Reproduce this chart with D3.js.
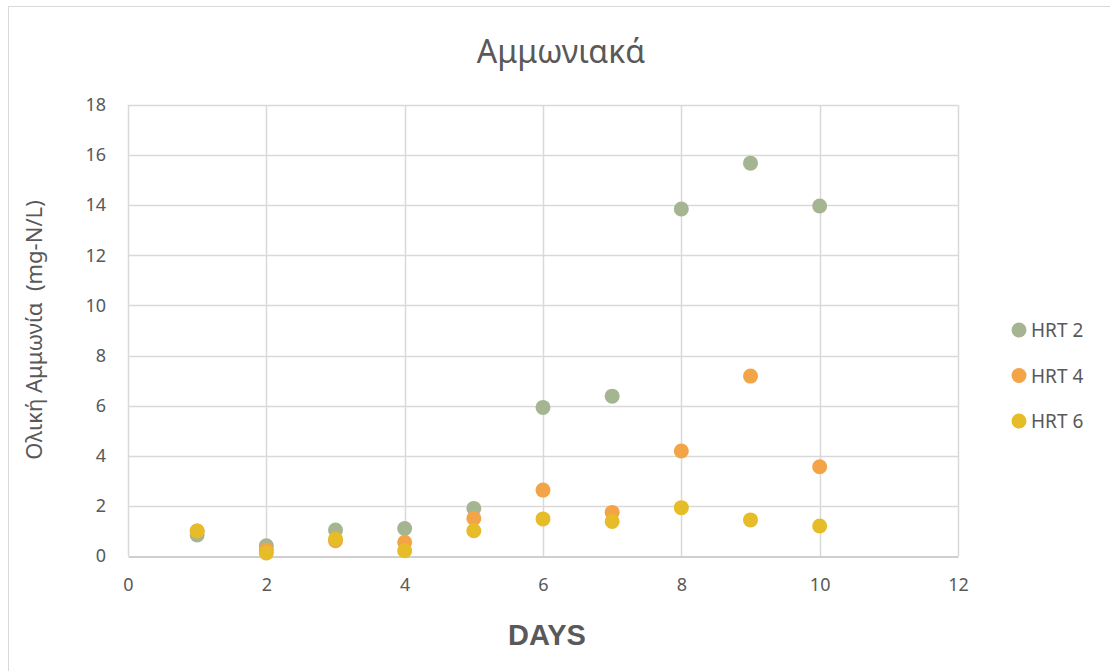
<!DOCTYPE html>
<html>
<head>
<meta charset="utf-8">
<script src="https://cdn.jsdelivr.net/npm/d3@7"></script>
<style>
  html, body { margin: 0; padding: 0; background: #ffffff; }
  svg { display: block; }
</style>
</head>
<body>
<svg id="chart" width="1110" height="671"></svg>
<script>
// Ammonia measurements per day for the three hydraulic retention times
const days = [1, 2, 3, 4, 5, 6, 7, 8, 9, 10];
const hrt2 = [0.84, 0.41, 1.04, 1.10, 1.90, 5.93, 6.38, 13.85, 15.68, 13.97];
const hrt4 = [1.00, 0.24, 0.61, 0.55, 1.50, 2.63, 1.74, 4.19, 7.18, 3.56];
const hrt6 = [1.00, 0.12, 0.68, 0.21, 1.01, 1.48, 1.38, 1.93, 1.44, 1.20];
const seriesNames = ["HRT 2", "HRT 4", "HRT 6"];
const seriesColors = ["#a5b592", "#f3a447", "#e7bc29"];
const xTicks = [0, 2, 4, 6, 8, 10, 12];
const yTicks = [0, 2, 4, 6, 8, 10, 12, 14, 16, 18];

const svg = d3.select("#chart");
const font = "'Noto Sans', 'Open Sans', sans-serif";
const textColor = "#595959";

// outer chart frame
svg.append("rect")
  .attr("x", 8.5).attr("y", 6.5)
  .attr("width", 1300).attr("height", 1000)
  .attr("fill", "none").attr("stroke", "#d9d9d9").attr("stroke-width", 1);

const plot = { left: 128, right: 958, top: 105, bottom: 556 };

const x = d3.scaleLinear().domain([0, 12]).range([plot.left, plot.right]);
const y = d3.scaleLinear().domain([0, 18]).range([plot.bottom, plot.top]);

// gridlines
const grid = svg.append("g");
grid.selectAll("line.h").data(yTicks.filter(t => t > 0)).join("line")
  .attr("x1", plot.left).attr("x2", plot.right)
  .attr("y1", d => Math.round(y(d)) + 0.5).attr("y2", d => Math.round(y(d)) + 0.5)
  .attr("stroke", "#d9d9d9").attr("stroke-width", 1.5);
grid.selectAll("line.v").data(xTicks).join("line")
  .attr("y1", plot.top).attr("y2", plot.bottom)
  .attr("x1", d => Math.round(x(d)) + 0.5).attr("x2", d => Math.round(x(d)) + 0.5)
  .attr("stroke", "#d9d9d9").attr("stroke-width", 1.5);

// x axis
const xAxis = svg.append("g")
  .attr("transform", `translate(0,${Math.round(y(0)) + 0.5})`)
  .call(d3.axisBottom(x).tickValues(xTicks).tickSize(0).tickPadding(22));
xAxis.select(".domain").attr("stroke", "#bfbfbf").attr("stroke-width", 1.5);
xAxis.selectAll("text").attr("font-family", font).attr("font-size", 18).attr("fill", textColor);

// y axis
const yAxis = svg.append("g")
  .attr("transform", `translate(${plot.left},0)`)
  .call(d3.axisLeft(y).tickValues(yTicks).tickSize(0).tickPadding(22));
yAxis.select(".domain").remove();
yAxis.selectAll("text").attr("font-family", font).attr("font-size", 18).attr("fill", textColor);

// points
const series = [hrt2, hrt4, hrt6];
series.forEach((vals, i) => {
  svg.append("g").selectAll("circle")
    .data(days.map((d, j) => [d, vals[j]]))
    .join("circle")
    .attr("cx", d => x(d[0]))
    .attr("cy", d => y(d[1]))
    .attr("r", 7.5)
    .attr("fill", seriesColors[i]);
});

// title
svg.append("text")
  .attr("x", 561).attr("y", 63)
  .attr("text-anchor", "middle")
  .attr("font-family", font).attr("font-size", 32).attr("fill", textColor)
  .text("Αμμωνιακά");

// axis titles
svg.append("text")
  .attr("x", 547).attr("y", 645)
  .attr("text-anchor", "middle")
  .attr("font-family", "'Liberation Sans', Arial, sans-serif")
  .attr("font-weight", "bold").attr("font-size", 29).attr("fill", textColor)
  .text("DAYS");

svg.append("text")
  .attr("transform", "translate(42,330) rotate(-90)")
  .attr("text-anchor", "middle")
  .attr("font-family", font).attr("font-size", 22).attr("fill", textColor)
  .attr("xml:space", "preserve")
  .text("Ολική Αμμωνία  (mg-N/L)");

// legend
const legend = svg.append("g");
seriesNames.forEach((name, i) => {
  const ly = 330 + i * 45.5;
  legend.append("circle").attr("cx", 1019).attr("cy", ly).attr("r", 7.5).attr("fill", seriesColors[i]);
  legend.append("text")
    .attr("x", 1031).attr("y", ly + 7)
    .attr("font-family", font).attr("font-size", 19).attr("fill", textColor)
    .text(name);
});
</script>
</body>
</html>
